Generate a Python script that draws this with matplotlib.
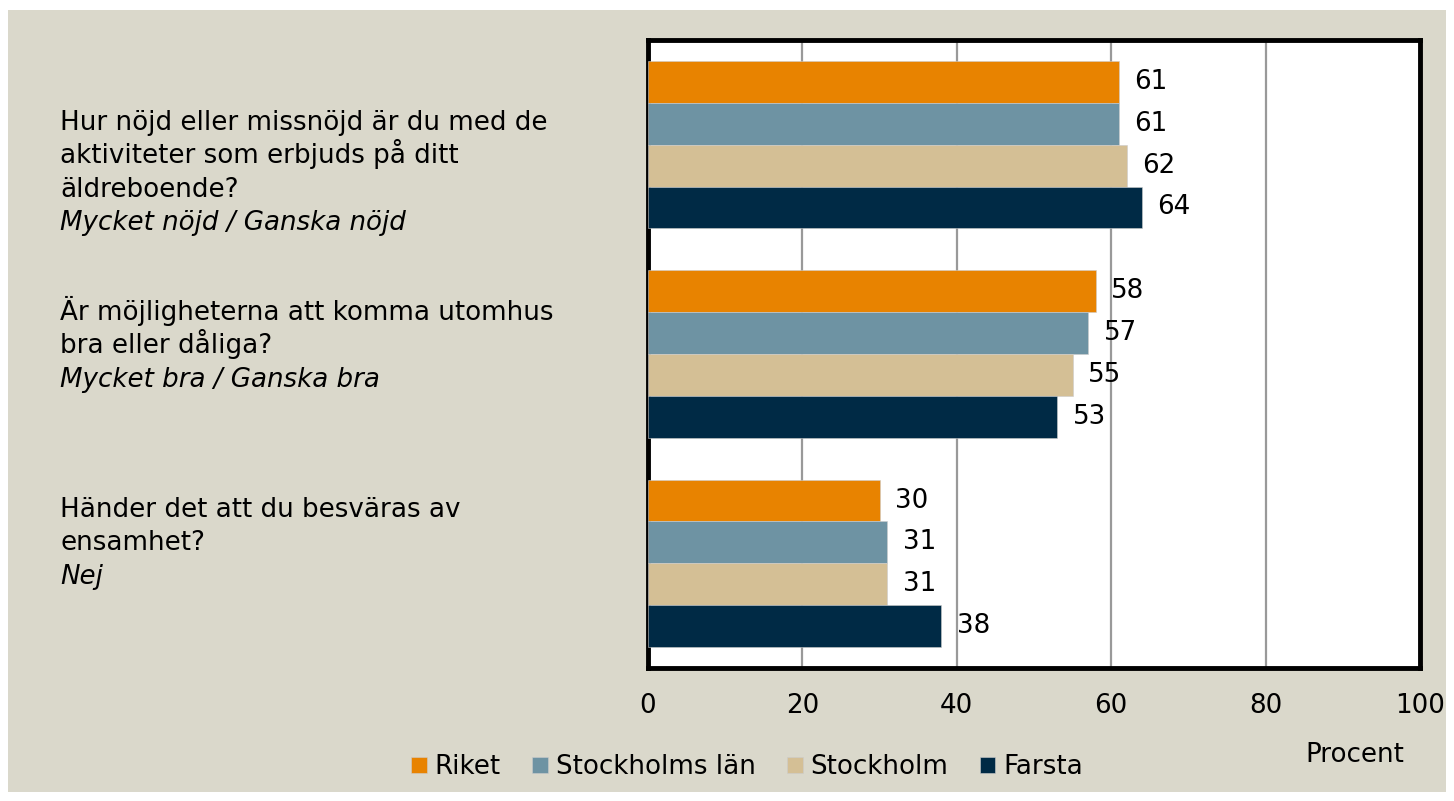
import matplotlib.pyplot as plt
import numpy as np
from matplotlib.patches import Rectangle

plt.rcParams['font.family'] = ['DejaVu Sans']

questions = [
    ["Hur nöjd eller missnöjd är du med de", "aktiviteter som erbjuds på ditt", "äldreboende?"],
    ["Är möjligheterna att komma utomhus", "bra eller dåliga?"],
    ["Händer det att du besväras av", "ensamhet?"],
]
answers = ["Mycket nöjd / Ganska nöjd", "Mycket bra / Ganska bra", "Nej"]

series = ["Riket", "Stockholms län", "Stockholm", "Farsta"]
riket = [61, 58, 30]
sthlm_lan = [61, 57, 31]
stockholm = [62, 55, 31]
farsta = [64, 53, 38]
values = [riket, sthlm_lan, stockholm, farsta]
colors = ['#e88300', '#6e93a3', '#d4bf95', '#002a45']

FS = 18.8

fig = plt.figure(figsize=(14.54, 8.01), dpi=100)
fig.patch.set_facecolor('white')
fig.patches.append(Rectangle((8 / 1454, 9 / 801), 1438 / 1454, 782 / 801,
                             transform=fig.transFigure, facecolor='#dad8cb',
                             edgecolor='none', zorder=-5))

ax = fig.add_axes([648 / 1454, 1 - 668 / 801, 772 / 1454, 628 / 801])
ax.set_zorder(2)
ax.set_facecolor('white')

h = 0.2
y = np.arange(len(questions))
for i, (vals, c, name) in enumerate(zip(values, colors, series)):
    pos = y + (i - 1.5) * h
    ax.barh(pos, vals, height=h, color=c, label=name, zorder=3,
            edgecolor='#cccccc', linewidth=0.4)
    for p, v in zip(pos, vals):
        ax.text(v + 2.0, p, str(v), va='center', ha='left', fontsize=FS, zorder=4)

ax.set_xlim(0, 100)
ax.set_ylim(2.5, -0.5)
ax.set_xticks([0, 20, 40, 60, 80, 100])
ax.set_yticks([])
ax.tick_params(axis='x', length=0, labelsize=FS, pad=18)
ax.grid(axis='x', color='#999999', linewidth=1.6, zorder=1)
for s in ax.spines.values():
    s.set_linewidth(3.5)
    s.set_color('black')

# question labels to the left, one text per line (baseline positions in px)
first_baselines = [130, 320, 517]
step = 33.3
for lines, a, b0 in zip(questions, answers, first_baselines):
    for k, line in enumerate(lines + [a]):
        fig.text(60 / 1454, 1 - (b0 + k * step) / 801, line, ha='left', va='baseline',
                 fontsize=FS, style='italic' if k == len(lines) else 'normal')

leg = fig.legend(loc='center', bbox_to_anchor=(747 / 1454, 1 - 767 / 801), ncol=4,
                 frameon=False, fontsize=FS, handlelength=0.6, handleheight=0.6,
                 handletextpad=0.3, columnspacing=1.2)

fig.text(1355 / 1454, 1 - 755 / 801, "Procent", ha='center', va='center', fontsize=FS)

fig.savefig('out.png', dpi=100, facecolor=fig.get_facecolor())
